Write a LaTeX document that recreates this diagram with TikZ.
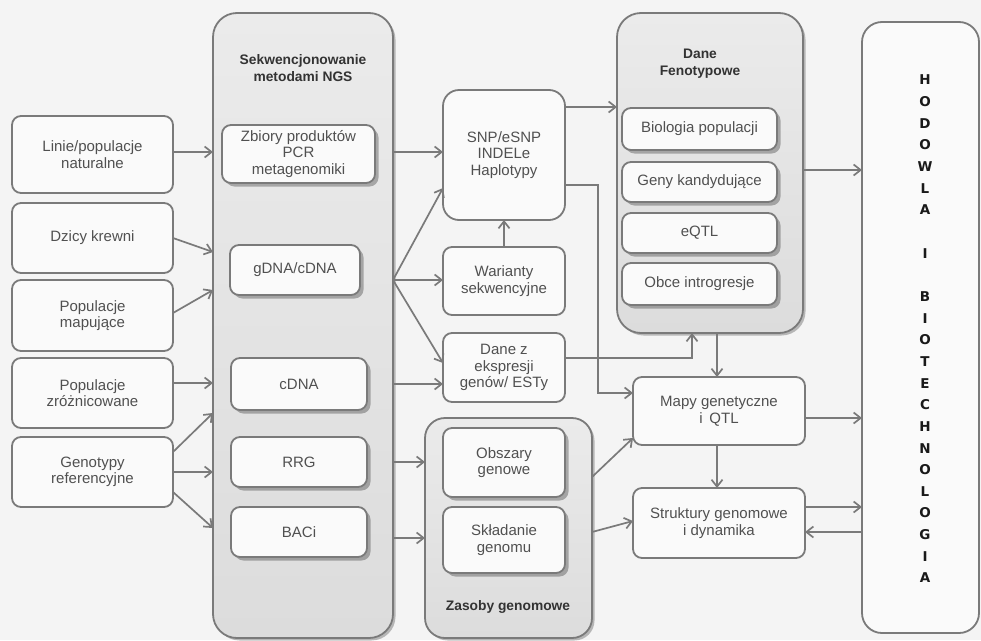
\documentclass[tikz,border=0pt]{standalone}
\usepackage{fontspec}
\setmainfont{Liberation Sans}
\newfontfamily\hodfont{DejaVu Sans}
\usetikzlibrary{arrows.meta,shadows}
\definecolor{bgc}{HTML}{F4F4F4}
\definecolor{linec}{HTML}{7A7A7A}
\definecolor{txtc}{HTML}{505050}
\definecolor{boxc}{HTML}{FAFAFA}
\definecolor{conttop}{HTML}{EBEBEB}
\definecolor{contbot}{HTML}{DCDCDC}
\begin{document}
\begin{tikzpicture}[x=1pt,y=-1pt,
  every node/.style={inner sep=0pt, outer sep=0pt},
  plainbox/.style={draw=linec, line width=1.8pt, fill=boxc, rounded corners=9pt, align=center, text=txtc, font=\fontsize{15}{16.5}\selectfont},
  innerbox/.style={plainbox, drop shadow={shadow xshift=3.5pt, shadow yshift=-3.5pt, fill=black, opacity=0.28}},
  container/.style={draw=linec, line width=1.8pt, top color=conttop, bottom color=contbot, rounded corners=24pt, drop shadow={shadow xshift=2.5pt, shadow yshift=-2.5pt, fill=black, opacity=0.25}},
  titletext/.style={align=center, text=black!80, font=\bfseries\fontsize{13.8}{17}\selectfont},
  conn/.style={draw=linec, line width=1.7pt, -{Straight Barb[length=7pt,width=11pt,line width=1.7pt]}}
]
\useasboundingbox (0,0) rectangle (981,640);
\fill[bgc] (0,0) rectangle (981,640);

% containers
\node[container, minimum width=180pt, minimum height=625pt] (ngs) at (303,325.5) {};
\node[titletext] (ngst) at (303,68) {Sekwencjonowanie\\metodami NGS};
\node[container, minimum width=186pt, minimum height=320pt] (fen) at (710,173) {};
\node[titletext] (fent) at (700,64) {Dane\\Fenotypowe};
\node[container, minimum width=167pt, minimum height=220pt, rounded corners=20pt] (zas) at (508.5,528) {};
\node[titletext] (zast) at (508,607) {Zasoby genomowe};
\node[draw=linec, line width=1.8pt, fill=boxc, rounded corners=20pt, minimum width=117pt, minimum height=611pt] (hod) at (920.5,327.5) {};
\node[text=black!90, align=center, font=\hodfont\bfseries\fontsize{13.5}{21.65}\selectfont] (hodt) at (925,329)
 {H\\O\\D\\O\\W\\L\\A\\\mbox{}\\I\\\mbox{}\\B\\I\\O\\T\\E\\C\\H\\N\\O\\L\\O\\G\\I\\A};

% left boxes
\node[plainbox, minimum width=161pt, minimum height=77pt] (L1) at (92.5,154.5) {Linie/populacje\\naturalne};
\node[plainbox, minimum width=161pt, minimum height=70pt] (L2) at (92.5,238) {Dzicy krewni};
\node[plainbox, minimum width=161pt, minimum height=71pt] (L3) at (92.5,315.5) {Populacje\\mapujące};
\node[plainbox, minimum width=161pt, minimum height=70pt] (L4) at (92.5,393) {Populacje\\zróżnicowane};
\node[plainbox, minimum width=161pt, minimum height=70pt] (L5) at (92.5,472) {Genotypy\\referencyjne};

% NGS inner boxes
\node[innerbox, minimum width=153pt, minimum height=58pt] (zb) at (298.5,154) {Zbiory produktów\\PCR\\metagenomiki};
\node[innerbox, minimum width=130pt, minimum height=50pt] (gdna) at (295,270) {gDNA/cDNA};
\node[innerbox, minimum width=136pt, minimum height=52pt] (cdna) at (299,384) {cDNA};
\node[innerbox, minimum width=136pt, minimum height=50pt] (rrg) at (299,462) {RRG};
\node[innerbox, minimum width=136pt, minimum height=50pt] (baci) at (299,532) {BACi};

% middle boxes
\node[plainbox, rounded corners=16pt, minimum width=122pt, minimum height=130pt] (snp) at (504,155) {SNP/eSNP\\INDELe\\Haplotypy};
\node[plainbox, minimum width=122pt, minimum height=68pt] (war) at (504,281) {Warianty\\sekwencyjne};
\node[plainbox, minimum width=122pt, minimum height=69pt] (dane) at (504,367.5) {Dane z\\ekspresji\\genów/ ESTy};

% Zasoby inner boxes
\node[innerbox, minimum width=122pt, minimum height=69pt] (obs) at (504,462.5) {Obszary\\genowe};
\node[innerbox, minimum width=122pt, minimum height=66pt] (skl) at (504,540) {Składanie\\genomu};

% Fenotypowe inner boxes
\node[innerbox, minimum width=155pt, minimum height=42pt] (bio) at (699.5,129) {Biologia populacji};
\node[innerbox, minimum width=155pt, minimum height=40pt] (geny) at (699.5,182) {Geny kandydujące};
\node[innerbox, minimum width=155pt, minimum height=40pt] (eqtl) at (699.5,233) {eQTL};
\node[innerbox, minimum width=155pt, minimum height=42pt] (obce) at (699.5,284) {Obce introgresje};

% right-middle boxes
\node[plainbox, minimum width=172pt, minimum height=68pt] (mapy) at (719,411) {Mapy genetyczne\\i\, QTL};
\node[plainbox, minimum width=172pt, minimum height=70pt] (str) at (719,523) {Struktury genomowe\\i dynamika};

% connectors: left -> NGS
\draw[conn] (L1.east |- 0,152) -- (ngs.west |- 0,152);
\draw[conn] (L2.east) -- (ngs.west |- 0,252);
\draw[conn] ([yshift=2.5pt]L3.east) -- (ngs.west |- 0,290);
\draw[conn] ([yshift=10pt]L4.east) -- (ngs.west |- 0,383);
\draw[conn] ([yshift=20pt]L5.east) -- (ngs.west |- 0,413);
\draw[conn] (L5.east) -- (ngs.west |- L5.east);
\draw[conn] ([yshift=-20pt]L5.east) -- (ngs.west |- 0,528);

% NGS -> middle
\draw[conn] (ngs.east |- 0,152) -- (snp.west |- 0,152);
\coordinate (fan) at (ngs.east |- 0,280);
\draw[conn] (fan) -- (snp.west |- 0,188);
\draw[conn] (fan) -- (war.west |- fan);
\draw[conn] (fan) -- (dane.west |- 0,363);
\draw[conn] (ngs.east |- cdna) -- (dane.west |- cdna);
\draw[conn] (ngs.east |- rrg) -- (zas.west |- rrg);
\draw[conn] (ngs.east |- 0,538) -- (zas.west |- 0,538);

% middle links
\draw[conn] (war.north) -- (snp.south);
\draw[conn] (snp.east |- 0,107) -- (fen.west |- 0,107);
\coordinate (bend) at (598,393);
\draw[conn] (snp.east |- 0,185) -| (bend) -- (mapy.west |- bend);
\draw[conn] (dane.east |- 0,358) -| (fen.south -| 692,0);
\draw[conn] (fen.south -| 717,0) -- (mapy.north -| 717,0);
\draw[conn] (mapy.south -| 717,0) -- (str.north -| 717,0);
\draw[conn] (zas.east |- 0,477) -- (mapy.west |- 0,438);
\draw[conn] (zas.east |- 0,532) -- (str.west |- 0,521);

% to HODOWLA
\draw[conn] (fen.east |- 0,170) -- (hod.west |- 0,170);
\draw[conn] (mapy.east |- 0,418) -- (hod.west |- 0,418);
\draw[conn] (str.east |- 0,507) -- (hod.west |- 0,507);
\draw[conn] (hod.west |- 0,532) -- (str.east |- 0,532);
\end{tikzpicture}
\end{document}
